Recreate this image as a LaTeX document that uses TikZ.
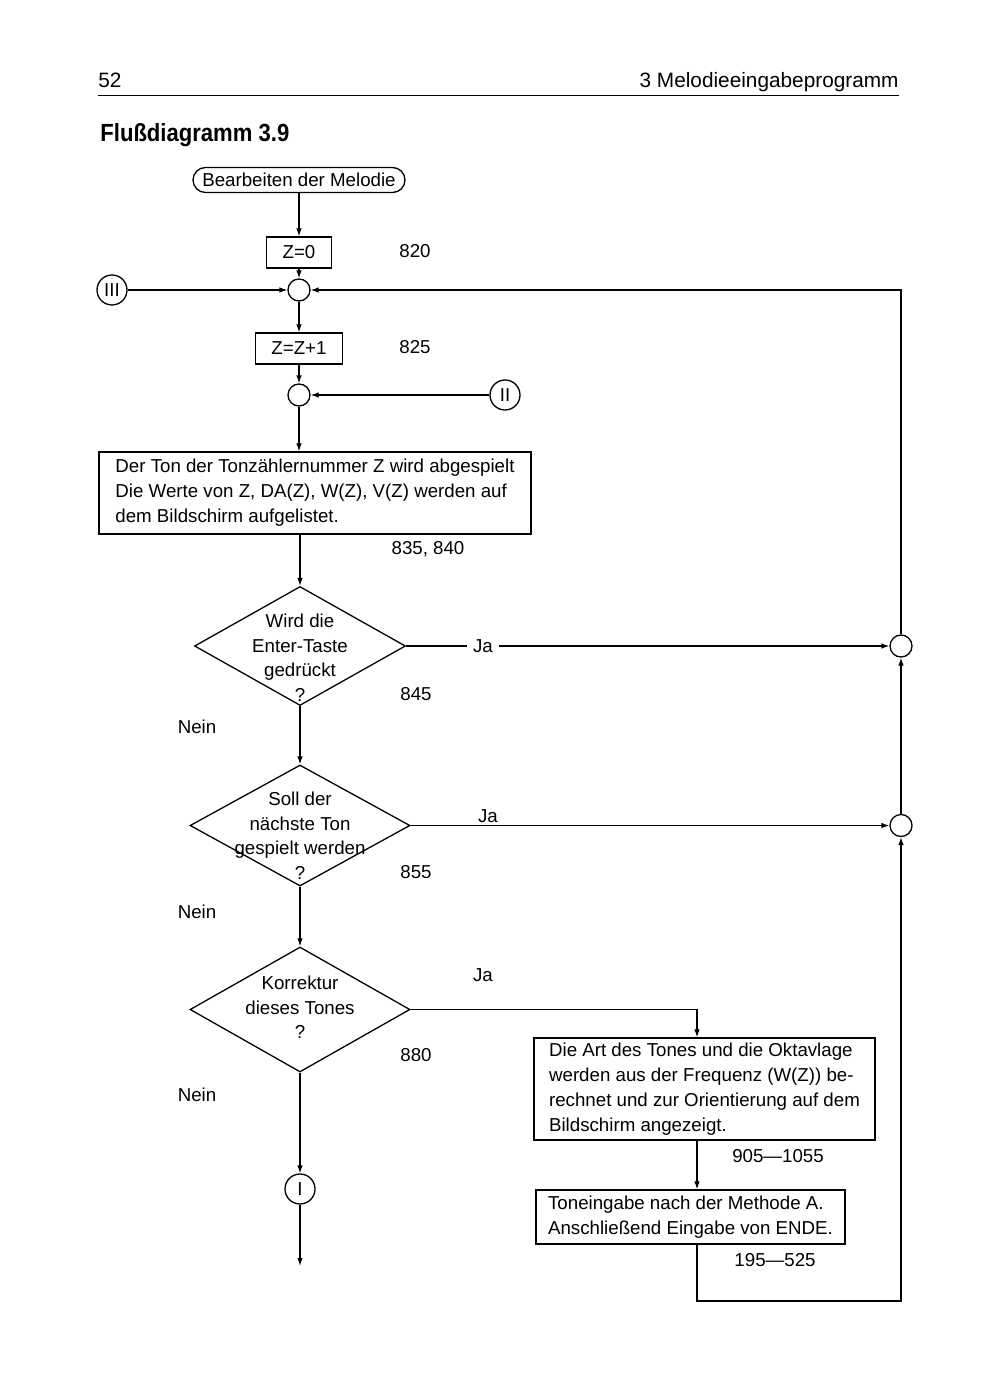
\documentclass[tikz,border=0pt]{standalone}
\usepackage{fontspec}
\setmainfont{Liberation Sans}
\usetikzlibrary{shapes.geometric,shapes.misc,arrows.meta}
\begin{document}
\begin{tikzpicture}[x=0.5pt,y=-0.5pt,
  every node/.style={font=\fontsize{9.35}{12.5}\selectfont, inner sep=0pt},
  ln/.style={line width=0.65pt},
  arr/.style={ln,-{Latex[length=4pt,width=2.8pt]}},
  box/.style={draw,ln,align=left,inner sep=0pt},
  term/.style={draw,ln,rounded rectangle,inner sep=0pt},
  dia/.style={draw,ln,diamond,inner sep=0pt},
  dtext/.style={align=center,font=\fontsize{9.35}{12.25}\selectfont},
  junc/.style={draw,ln,circle,minimum size=11pt,inner sep=0pt},
  conn/.style={draw,ln,circle,minimum size=15pt,inner sep=0pt},
  hdr/.style={font=\fontsize{10.4}{12}\selectfont}
]
\useasboundingbox (0,0) rectangle (1000,1400);

% header
\node[hdr,anchor=base west] (pnum) at (98,88) {52};
\node[hdr,anchor=base east] (chap) at (899,88) {3 Melodieeingabeprogramm};
\coordinate (ruleL) at (98,95.5);
\coordinate (ruleR) at (899,95.5);
\draw[line width=0.8pt] (ruleL) -- (ruleR);
\node[anchor=base west] (title) at (100,142) {\scalebox{0.89}[1]{\fontsize{12.4}{14}\selectfont\bfseries Flußdiagramm 3.9}};

% top column
\node[term,minimum width=106pt,minimum height=12.5pt] (start) at (299,180) {Bearbeiten der Melodie};
\node[box,minimum width=32.5pt,minimum height=15.5pt] (z0) at (299,252.5) {Z=0};
\node (n820) at (415,251) {820};
\node[junc] (jA) at (299,290) {};
\node[conn] (c3) at (112,290) {III};
\node[box,minimum width=43.5pt,minimum height=15.5pt] (z1) at (299,348.5) {Z=Z+1};
\node (n825) at (415,347) {825};
\node[junc] (jB) at (299,395) {};
\node[conn] (c2) at (505,395) {II};

\node[box,minimum width=216pt,minimum height=41pt] (play) at (315,493)
  {Der Ton der Tonzählernummer Z wird abgespielt\\
   Die Werte von Z, DA(Z), W(Z), V(Z) werden auf\\
   dem Bildschirm aufgelistet.};
\node (n835) at (428,549) {835, 840};

% decisions
\node[dia,minimum width=105.5pt,minimum height=59.5pt] (d1) at (300,646) {};
\node[dtext] (t1) at (300,657.5) {Wird die\\Enter-Taste\\gedrückt\\?};
\node (n845) at (416,694) {845};
\node (nein1) at (197,727) {Nein};

\node[dia,minimum width=110pt,minimum height=60.5pt] (d2) at (300,825.5) {};
\node[dtext] (t2) at (300,835.5) {Soll der\\nächste Ton\\gespielt werden\\?};
\node (n855) at (416,872) {855};
\node (ja2) at (488,816) {Ja};
\node (nein2) at (197,912) {Nein};

\node[dia,minimum width=110pt,minimum height=62.5pt] (d3) at (300,1009.5) {};
\node[dtext] (t3) at (300,1007.5) {Korrektur\\dieses Tones\\?};
\node (n880) at (416,1055) {880};
\node (ja3) at (483,975) {Ja};
\node (nein3) at (197,1095) {Nein};

\node[conn] (c1) at (300,1189) {I};
\coordinate (outI) at (300,1266);

% right branch
\node[junc] (r1) at (901,646) {};
\node[junc] (r2) at (901,825.5) {};
\coordinate (colR) at (697,0);
\node[box,minimum width=170.5pt,minimum height=51pt] (b4) at (704.5,1089)
  {Die Art des Tones und die Oktavlage\\
   werden aus der Frequenz (W(Z)) be-\\
   rechnet und zur Orientierung auf dem\\
   Bildschirm angezeigt.};
\node (n905) at (778,1156) {905—1055};
\node[box,minimum width=154.5pt,minimum height=27pt] (b5) at (690.5,1217)
  {Toneingabe nach der Methode A.\\
   Anschließend Eingabe von ENDE.};
\node (n195) at (775,1260) {195—525};
\coordinate (loop) at (697,1301);

% connectors
\draw[arr] (start.south) -- (z0.north);
\draw[arr] (z0.south) -- (jA.north);
\draw[arr] (c3.east) -- (jA.west);
\draw[arr] (jA.south) -- (z1.north);
\draw[arr] (z1.south) -- (jB.north);
\draw[arr] (c2.west) -- (jB.east);
\draw[arr] (jB.south) -- (jB |- play.north);
\draw[arr] (d1.north |- play.south) -- (d1.north);
\draw[arr] (d1.east) -- node[pos=0.159,fill=white,inner xsep=3.3pt,inner ysep=2pt] (ja1) {Ja} (r1.west);
\draw[arr] (d1.south) -- (d2.north);
\draw[arr] (d2.east) -- (r2.west);
\draw[arr] (d2.south) -- (d3.north);
\draw[arr] (d3.south) -- (c1.north);
\draw[arr] (c1.south) -- (outI);
\draw[arr] (d3.east) -| (colR |- b4.north);
\draw[arr] (colR |- b4.south) -- (colR |- b5.north);
\draw[arr] (colR |- b5.south) -- (loop) -| (r2.south);
\draw[arr] (r2.north) -- (r1.south);
\draw[arr] (r1.north) |- (jA.east);
\end{tikzpicture}
\end{document}
